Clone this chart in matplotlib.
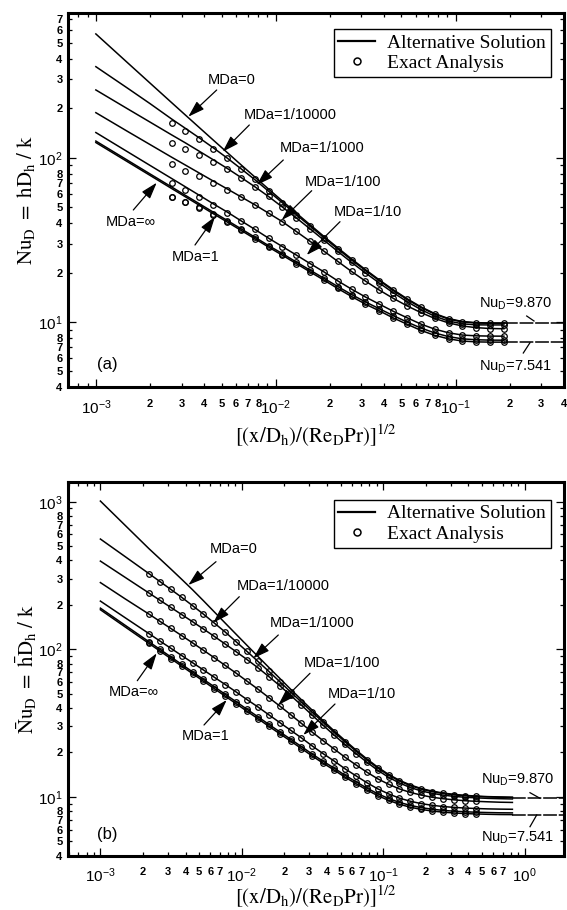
import numpy as np
import matplotlib
matplotlib.use("Agg")
import matplotlib.pyplot as plt
from matplotlib import ticker
from matplotlib.lines import Line2D

plt.rcParams['font.family'] = ['Liberation Sans', 'DejaVu Sans']
plt.rcParams['mathtext.fontset'] = 'stix'

W, H = 567, 910

mda_labels = ['MDa=0', 'MDa=1/10000', 'MDa=1/1000', 'MDa=1/100', 'MDa=1/10', 'MDa=1', 'MDa=\u221e']

# ---------------- (a) local Nusselt number ----------------
xa = [0.001, 0.0015, 0.002, 0.002636, 0.003148, 0.003758, 0.004487, 0.005358, 0.006397,
      0.007638, 0.00912, 0.01089, 0.013, 0.01552, 0.01854, 0.02213, 0.02642, 0.03155,
      0.03767, 0.04498, 0.0537, 0.06412, 0.07656, 0.09141, 0.1091, 0.1303, 0.1556, 0.1858]
a_mda0 = [566.8, 378.7, 284.7, 216.6, 181.8, 152.7, 128.3, 107.9, 90.8, 76.5, 64.5, 54.5, 46.1, 39.1,
          33.2, 28.3, 24.2, 20.85, 18.05, 15.74, 13.87, 12.38, 11.26, 10.50, 10.07, 9.91, 9.87, 9.87]
a_mda1e4 = [358.2, 265.1, 213.5, 172.2, 150.9, 132.1, 115.1, 99.8, 85.9, 73.7, 62.6, 53.2, 45.1, 38.4,
            32.6, 27.85, 23.85, 20.6, 17.85, 15.56, 13.73, 12.27, 11.17, 10.42, 10.01, 9.86, 9.83, 9.82]
a_mda1e3 = [258.5, 198.5, 164.8, 137.8, 123.1, 109.5, 97.3, 86.3, 76.0, 66.7, 58.1, 50.1, 43.1, 36.9,
            31.5, 26.9, 23.06, 19.91, 17.27, 15.09, 13.32, 11.91, 10.85, 10.14, 9.75, 9.61, 9.6, 9.6]
a_mda1e2 = [188.0, 144.6, 120.3, 100.8, 90.2, 80.7, 72.2, 64.7, 57.9, 51.8, 46.0, 40.8, 35.6, 31.0,
            27.0, 23.4, 20.3, 17.75, 15.65, 13.95, 12.55, 11.42, 10.52, 9.88, 9.46, 9.24, 9.13, 9.1]
a_mda1e1 = [142.3, 108.7, 89.8, 74.8, 66.5, 59.1, 52.5, 46.8, 41.4, 36.7, 32.4, 28.8, 25.6, 22.7,
            20.2, 17.8, 15.85, 14.2, 12.85, 11.63, 10.62, 9.72, 9.05, 8.6, 8.33, 8.24, 8.21, 8.2]
a_mda1 = [126.3, 96.5, 79.7, 66.4, 59.0, 52.5, 46.7, 41.6, 37.0, 32.9, 29.2, 26.1, 23.2, 20.7,
          18.45, 16.45, 14.7, 13.25, 12.05, 10.95, 10.0, 9.2, 8.58, 8.15, 7.9, 7.8, 7.76, 7.75]
a_mdainf = [123.7, 94.5, 78.1, 65.0, 57.8, 51.4, 45.7, 40.7, 36.2, 32.2, 28.6, 25.5, 22.7, 20.2,
            18.0, 16.0, 14.3, 12.85, 11.7, 10.6, 9.7, 8.9, 8.3, 7.9, 7.66, 7.57, 7.545, 7.541]

xa_exact = xa[3:]
ea_mda1e4 = [162, 145, 129.5, 113.5, 99.8, 85.9, 73.7, 62.6, 53.2, 45.1, 38.4, 32.6, 27.85, 23.85,
             20.6, 17.85, 15.56, 13.73, 12.27, 11.17, 10.42, 10.01, 9.86, 9.83, 9.82]
ea_mda1e3 = [123, 112.5, 104, 94.5, 85.0, 75.5, 66.5, 58.1, 50.1, 43.1, 36.9, 31.5, 26.9, 23.06,
             19.91, 17.27, 15.09, 13.32, 11.91, 10.85, 10.14, 9.75, 9.61, 9.6, 9.6]
ea_mda1e2 = [92, 83, 77.5, 70.5, 63.8, 57.5, 51.8, 46.0, 40.8, 35.6, 31.0, 27.0, 23.4, 20.3,
             17.75, 15.65, 13.95, 12.55, 11.42, 10.52, 9.88, 9.46, 9.24, 9.13, 9.1]
ea_mda1e1 = [70, 63.5, 57.5, 51.6, 46.3, 41.2, 36.7, 32.4, 28.8, 25.6, 22.7, 20.2, 17.8, 15.85,
             14.2, 12.85, 11.63, 10.62, 9.72, 9.05, 8.6, 8.33, 8.24, 8.21, 8.2]
ea_mda1 = [58, 54, 50, 45.5, 41.2, 36.9, 32.9, 29.2, 26.1, 23.2, 20.7, 18.45, 16.45, 14.7,
           13.25, 12.05, 10.95, 10.0, 9.2, 8.58, 8.15, 7.9, 7.8, 7.76, 7.75]
ea_mdainf = [57.5, 53.5, 49.5, 45.0, 40.4, 36.2, 32.2, 28.6, 25.5, 22.7, 20.2, 18.0, 16.0, 14.3,
             12.85, 11.7, 10.6, 9.7, 8.9, 8.3, 7.9, 7.66, 7.57, 7.545, 7.541]

# ---------------- (b) mean Nusselt number ----------------
xb = [0.001, 0.0015, 0.002208, 0.002636, 0.003148, 0.003758, 0.004487, 0.005358, 0.006397,
      0.007638, 0.00912, 0.01089, 0.013, 0.01552, 0.01854, 0.02213, 0.02642, 0.03155, 0.03767,
      0.04498, 0.0537, 0.06412, 0.07656, 0.09141, 0.1091, 0.1303, 0.1556, 0.1858, 0.2218,
      0.2649, 0.3163, 0.3777, 0.451, 0.55, 0.67, 0.82]
b_mda0 = [1010, 690, 480, 410, 350, 298, 253, 213.2, 179.0, 150.4, 126.4, 106.3, 89.5, 75.4, 63.6,
          53.7, 45.5, 38.6, 32.8, 28.0, 24.1, 20.8, 18.1, 15.9, 14.2, 12.95, 12.04, 11.39, 10.94,
          10.62, 10.39, 10.24, 10.13, 10.04, 9.99, 9.95]
b_mda1e4 = [558.5, 423.9, 325.3, 287.8, 254.6, 224.9, 197.5, 173.0, 150.5, 130.8, 112.5, 96.7, 82.8,
            70.9, 60.4, 51.4, 43.9, 37.4, 32.0, 27.4, 23.6, 20.45, 17.83, 15.69, 14.03, 12.81, 11.92,
            11.29, 10.85, 10.55, 10.32, 10.18, 10.07, 9.99, 9.94, 9.90]
b_mda1e3 = [395.9, 306.7, 240.4, 214.9, 192.2, 171.9, 153.7, 137.2, 122.2, 108.5, 96.3, 85.2, 75.0,
            65.4, 56.7, 48.8, 41.8, 35.7, 30.5, 26.2, 22.65, 19.66, 17.2, 15.15, 13.58, 12.42, 11.57,
            10.97, 10.57, 10.28, 10.08, 9.94, 9.85, 9.77, 9.72, 9.68]
b_mda1e2 = [283.1, 219.3, 173.0, 154.7, 138.4, 123.8, 110.5, 98.5, 87.6, 77.7, 68.9, 60.8, 53.7,
            47.1, 41.3, 36.1, 31.45, 27.4, 24.0, 21.1, 18.56, 16.48, 14.72, 13.26, 12.18, 11.32,
            10.72, 10.28, 9.94, 9.72, 9.55, 9.42, 9.33, 9.26, 9.2, 9.17]
b_mda1e1 = [212.1, 163.4, 127.6, 113.8, 101.6, 90.7, 81.1, 72.4, 64.6, 57.7, 51.4, 45.6, 40.7, 36.0,
            31.9, 28.3, 25.1, 22.1, 19.6, 17.5, 15.5, 13.9, 12.49, 11.34, 10.48, 9.8, 9.34, 9.0,
            8.77, 8.6, 8.49, 8.4, 8.34, 8.29, 8.26, 8.24]
b_mda1 = [190.0, 145.2, 112.4, 99.9, 88.8, 79.0, 70.3, 62.5, 55.7, 49.5, 44.1, 39.2, 34.9, 31.0,
          27.6, 24.6, 21.9, 19.47, 17.41, 15.66, 14.01, 12.67, 11.48, 10.5, 9.76, 9.17, 8.76, 8.45,
          8.25, 8.1, 8.0, 7.93, 7.87, 7.83, 7.8, 7.79]
b_mdainf = [185.4, 141.5, 109.5, 97.3, 86.5, 76.9, 68.4, 60.8, 54.1, 48.1, 42.8, 38.0, 33.9, 30.1,
            26.8, 23.9, 21.25, 18.9, 16.9, 15.2, 13.6, 12.3, 11.15, 10.2, 9.48, 8.91, 8.51, 8.22,
            8.02, 7.88, 7.78, 7.71, 7.66, 7.62, 7.59, 7.58]
b_exact_slice = slice(2, 33)   # exact-analysis points coincide with the curves here

nu_fd_slug = 9.870
nu_fd_pois = 7.541
asym_xa = [0.1858, 0.401]
asym_xb = [0.82, 1.9]


def fp(x, y):
    return (x / W, 1 - y / H)


def minor_label(maxd, vmin):
    def f(v, pos):
        if v < vmin:
            return ''
        e = np.floor(np.log10(v) + 1e-9)
        m = v / 10 ** e
        d = int(round(m))
        if 2 <= d <= maxd and abs(m - d) < 1e-6:
            return str(d)
        return ''
    return f


def style(ax, xlim, ylim, xmaxd):
    ax.set_xscale('log')
    ax.set_yscale('log')
    ax.set_xlim(*xlim)
    ax.set_ylim(*ylim)
    for s in ax.spines.values():
        s.set_linewidth(2.2)
    for axis, maxd, vmin in ((ax.xaxis, xmaxd, 1e-3), (ax.yaxis, 8, 0)):
        axis.set_major_locator(ticker.LogLocator(base=10, numticks=20))
        axis.set_minor_locator(ticker.LogLocator(base=10, subs=np.arange(2, 10), numticks=20))
        axis.set_major_formatter(ticker.LogFormatterSciNotation())
        axis.set_minor_formatter(ticker.FuncFormatter(minor_label(maxd, vmin)))
    ax.tick_params(which='both', direction='in', top=True, right=True, width=0.9)
    ax.tick_params(which='major', length=6, labelsize=11)
    ax.tick_params(which='minor', length=3.2, labelsize=8)
    ax.tick_params(axis='x', which='both', pad=8)
    ax.tick_params(axis='y', which='both', pad=4)
    for t in ax.xaxis.get_minor_ticks() + ax.yaxis.get_minor_ticks():
        t.label1.set_fontweight('bold')


def legend(ax, anchor):
    hs = [Line2D([], [], color='k', lw=1.6),
          Line2D([], [], ls='none', marker='o', ms=5, mfc='none', mec='k', mew=1.1)]
    leg = ax.legend(hs, ['Alternative Solution', 'Exact Analysis'], loc='upper right',
                    bbox_to_anchor=anchor, borderaxespad=0, fancybox=False, edgecolor='k',
                    framealpha=1, prop={'family': 'Liberation Serif', 'size': 14},
                    handlelength=1.9, handletextpad=0.6, labelspacing=0.15, borderpad=0.25)
    leg.get_frame().set_linewidth(1.0)


def arrow(fig, tail, tip):
    fig.add_artist(matplotlib.patches.FancyArrowPatch(
        fp(*tail), fp(*tip), transform=fig.transFigure,
        arrowstyle='-|>,head_length=1.0,head_width=0.32', mutation_scale=10,
        lw=0.9, color='k', shrinkA=0, shrinkB=0))


fig = plt.figure(figsize=(W / 100, H / 100), dpi=100)
ax1 = fig.add_axes([68 / W, 1 - 387.4 / H, 496 / W, 374.4 / H])
ax2 = fig.add_axes([68 / W, 1 - 855.6 / H, 496 / W, 373.6 / H])

# panel (a)
for y in [a_mda0, a_mda1e4, a_mda1e3, a_mda1e2, a_mda1e1, a_mda1, a_mdainf]:
    ax1.plot(xa, y, color='k', lw=1.1)
for y in [ea_mda1e4, ea_mda1e3, ea_mda1e2, ea_mda1e1, ea_mda1, ea_mdainf]:
    ax1.plot(xa_exact, y, ls='none', marker='o', ms=4, mfc='none', mec='k', mew=0.9)
for v in (nu_fd_slug, nu_fd_pois):
    ax1.plot(asym_xa, [v, v], color='k', lw=1.1, dashes=(9, 1.2))
style(ax1, (7e-4, 0.401), (4, 760), 8)
legend(ax1, (0.9732, 0.9565))

# panel (b)
for y in [b_mda0, b_mda1e4, b_mda1e3, b_mda1e2, b_mda1e1, b_mda1, b_mdainf]:
    ax2.plot(xb, y, color='k', lw=1.1)
for y in [b_mda1e4, b_mda1e3, b_mda1e2, b_mda1e1, b_mda1, b_mdainf]:
    ax2.plot(xb[b_exact_slice], y[b_exact_slice], ls='none', marker='o', ms=4,
             mfc='none', mec='k', mew=0.9)
for v in (nu_fd_slug, nu_fd_pois):
    ax2.plot(asym_xb, [v, v], color='k', lw=1.1, dashes=(9, 1.2))
style(ax2, (5.9e-4, 1.9), (4, 1360), 7)
legend(ax2, (0.9732, 0.9518))

# MDa labels and arrows (image pixel positions)
labels_a = [(208, 80), (243.3, 115), (280, 148.3), (305, 181.7), (333.3, 211.7), (171.7, 256.7), (106, 221.7)]
arrows_a = [((216.7, 90), (188.3, 116.7)), ((249.3, 125), (222.7, 151.7)), ((283.3, 160), (256.7, 185)),
            ((311.7, 190.7), (281.7, 220)), ((340, 221.7), (306.7, 255)), ((195, 245), (215, 216.7)),
            ((133.3, 210), (156.7, 182.7))]
labels_b = [(209.3, 549.3), (236.7, 586), (269.3, 623.3), (303.3, 662.7), (327.3, 694.3), (181.7, 736), (108.3, 692.3)]
arrows_b = [((216, 561.7), (188.3, 585)), ((239.3, 596.7), (213.3, 622.7)), ((278.3, 635), (253.3, 658.3)),
            ((310, 673.3), (278.3, 705)), ((335, 704), (303.3, 735)), ((204, 725), (226.7, 700)),
            ((137.3, 680.7), (156.7, 653.3))]
for lab, (x, y), (tail, tip) in zip(mda_labels + mda_labels, labels_a + labels_b, arrows_a + arrows_b):
    fig.text(*fp(x, y), lab, ha='left', va='center', fontsize=10.5)
    arrow(fig, tail, tip)

# asymptote labels
nu_txt = [('$\\mathregular{Nu_D}$=9.870', (515.5, 303.3), ((526.7, 316), (534, 321))),
          ('$\\mathregular{Nu_D}$=7.541', (516, 367), ((523.3, 353), (530, 342.7))),
          ('$\\mathregular{Nu_D}$=9.870', (518, 780), ((530, 792.7), (540, 798.3))),
          ('$\\mathregular{Nu_D}$=7.541', (518, 838), ((530, 826.7), (536.7, 815)))]
for s, (x, y), (p0, p1) in nu_txt:
    fig.text(*fp(x, y), s, ha='center', va='center', fontsize=10.5)
    fig.add_artist(Line2D([p0[0] / W, p1[0] / W], [1 - p0[1] / H, 1 - p1[1] / H],
                          transform=fig.transFigure, color='k', lw=0.9))

fig.text(*fp(107, 365), '(a)', ha='center', va='center', fontsize=12)
fig.text(*fp(107, 834), '(b)', ha='center', va='center', fontsize=12)

xlab = r'$\mathrm{[(x/D_h)/(Re_DPr)]^{1/2}}$'
fig.text(*fp(316, 436), xlab, ha='center', va='center', fontsize=15)
fig.text(*fp(316, 897), xlab, ha='center', va='center', fontsize=15)
fig.text(*fp(26, 200), r'$\mathrm{Nu_D\ =\ hD_h\ /\ k}$', rotation=90, ha='center', va='center', fontsize=15)
fig.text(*fp(26, 669), r'$\mathrm{\bar{N}u_D\ =\ \bar{h}D_h\ /\ k}$', rotation=90, ha='center', va='center', fontsize=15)

fig.savefig('out.png', dpi=100)
